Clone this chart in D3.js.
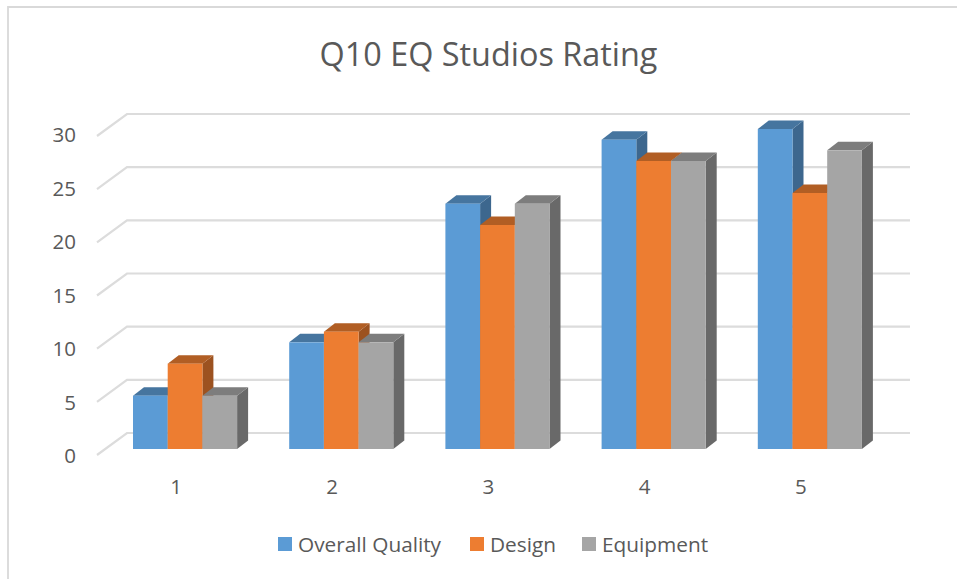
<!DOCTYPE html>
<html><head><meta charset="utf-8">
<script src="https://cdnjs.cloudflare.com/ajax/libs/d3/7.8.5/d3.min.js"></script>
<style>html,body{margin:0;padding:0;background:#fff}svg{display:block}text{font-family:"Open Sans","Noto Sans",sans-serif}</style>
</head><body><svg id="c" width="957" height="579"></svg>
<script>
const titleText = "Q10 EQ Studios Rating";
const categories = ["1","2","3","4","5"];
const seriesNames = ["Overall Quality","Design","Equipment"];
const overallQuality = [5,10,23,29,30];
const design = [8,11,21,27,24];
const equipment = [5,10,23,27,28];
const yTicks = [0,5,10,15,20,25,30];
const frontColors = ["#5b9bd5","#ed7d31","#a5a5a5"];
const topColors = ["#46759f","#b15e24","#7d7d7d"];
const sideColors = ["#3d678e","#9c5220","#696969"];
const seriesValues = [overallQuality, design, equipment];

const svg = d3.select("#c");
// frame
svg.append("path").attr("d","M8,579V7H957").attr("fill","none").attr("stroke","#d9d9d9").attr("stroke-width",1.8);

const yFront = d3.scaleLinear().domain([0,30]).range([449,129]);
const yWall = d3.scaleLinear().domain([0,30]).range([433,114]);
const yLabel = d3.scaleLinear().domain([0,30]).range([456,135]);
const x0 = d3.scaleBand().domain(categories).range([97,878]).paddingInner(0).paddingOuter(0);
const barW = 34.7, groupOff = 36, depthX = 11, depthY = 8.5;

// walls
const wall = svg.append("g").attr("stroke","#dcdcdc").attr("stroke-width",2.2).attr("fill","none");
yTicks.forEach(t=>{
  const y = yWall(t);
  wall.append("path").attr("d",`M97,${y+22}L127,${y}H910`);
});
// tick labels
svg.append("g").selectAll("text").data(yTicks).join("text")
  .attr("x",76).attr("y",d=>yLabel(d)).attr("dy","0.36em").attr("text-anchor","end")
  .attr("font-size",20.5).attr("fill","#595959").text(d=>d);
// bars
categories.forEach((c,i)=>{
  const g = svg.append("g");
  const gx = x0(c)+groupOff;
  seriesValues.forEach((vals,s)=>{
    const x = gx + s*barW, y = yFront(vals[i]), b = yFront(0);
    g.append("path").attr("fill",sideColors[s])
      .attr("d",`M${x+barW},${y}l${depthX},${-depthY}V${b-depthY}l${-depthX},${depthY}Z`);
    g.append("path").attr("fill",topColors[s])
      .attr("d",`M${x},${y}l${depthX},${-depthY}h${barW}l${-depthX},${depthY}Z`);
    g.append("rect").attr("x",x).attr("y",y).attr("width",barW).attr("height",b-y).attr("fill",frontColors[s]);
  });
  svg.append("text").attr("x",x0(c)+79).attr("y",487).attr("dy","0.36em").attr("text-anchor","middle")
    .attr("font-size",20.5).attr("fill","#595959").text(c);
});
// title
svg.append("text").attr("x",488.5).attr("y",54).attr("dy","0.36em").attr("text-anchor","middle")
  .attr("font-size",32.4).attr("fill","#595959").text(titleText);
// legend
const legendX = [278,470,582];
seriesNames.forEach((n,s)=>{
  svg.append("rect").attr("x",legendX[s]).attr("y",537).attr("width",14).attr("height",14).attr("fill",frontColors[s]);
  svg.append("text").attr("x",legendX[s]+20).attr("y",545).attr("dy","0.36em")
    .attr("font-size",20.8).attr("fill","#595959").text(n);
});
</script></body></html>
